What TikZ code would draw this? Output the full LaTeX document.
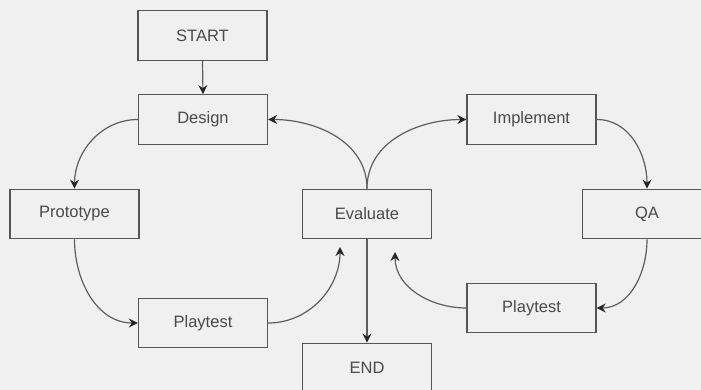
\documentclass[tikz,border=0pt]{standalone}
\usepackage{fontspec}
\setmainfont{Liberation Sans}
\usetikzlibrary{arrows.meta}
\definecolor{bg}{HTML}{F0F0F0}
\definecolor{boxline}{HTML}{555555}
\definecolor{txt}{HTML}{4A4A4A}
\definecolor{conn}{HTML}{5E5E5E}
\tikzset{
  box/.style={draw=boxline, line width=1.3pt, rectangle, minimum width=129pt, minimum height=49.5pt, inner sep=0pt, text=txt, font=\fontsize{16.5}{19}\selectfont},
  conn/.style={draw=conn, line width=1.2pt, -{Stealth[length=9pt,width=9pt,inset=3pt,color=black!85]}}
}
\begin{document}
\begin{tikzpicture}[x=1pt,y=-1pt]
\useasboundingbox (0,0) rectangle (701,390);
\fill[bg] (0,0) rectangle (701,390);
\clip (0,0) rectangle (701,390);
\node[box] (start) at (202.5,35.5) {START};
\node[box] (design) at (203,119.5) {Design};
\node[box] (proto) at (74.5,214) {Prototype};
\node[box] (play1) at (203,323) {Playtest};
\node[box] (eval) at (367,214) {Evaluate};
\node[box] (end) at (367,368) {END};
\node[box] (impl) at (531.5,119.5) {Implement};
\node[box] (qa) at (647,214) {QA};
\node[box] (play2) at (531.5,308) {Playtest};
\coordinate (ein1) at (340,247);
\coordinate (ein2) at (395,252);
\draw[conn] (start.south) -- (design.north);
\draw[conn] (design.west) to[out=180,in=90] (proto.north);
\draw[conn] (proto.south) to[out=-90,in=180] (play1.west);
\draw[conn] (play1.east) to[out=0,in=-90] (ein1);
\draw[conn] (eval.north) to[out=90,in=0] (design.east);
\draw[conn] (eval.north) to[out=90,in=180] (impl.west);
\draw[conn] (impl.east) to[out=0,in=90] (qa.north);
\draw[conn] (qa.south) to[out=-90,in=0] (play2.east);
\draw[conn] (play2.west) to[out=180,in=-90] (ein2);
\draw[conn] (eval.south) -- (end.north);
\end{tikzpicture}
\end{document}
